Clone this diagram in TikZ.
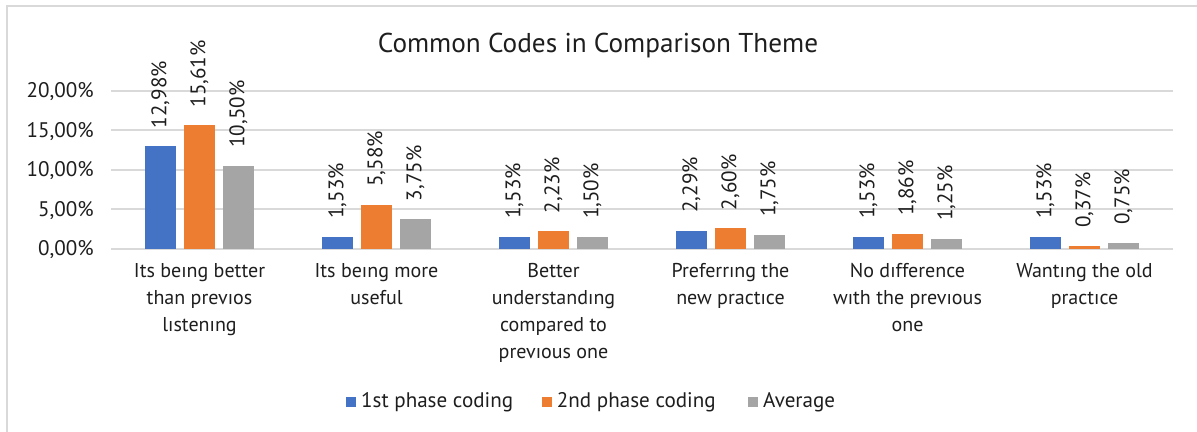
\documentclass[tikz,border=0pt]{standalone}
\usepackage{fontspec}
\setmainfont{PT Sans}
\usetikzlibrary{positioning}

\definecolor{barblue}{HTML}{4472C4}
\definecolor{barorange}{HTML}{ED7D31}
\definecolor{bargray}{HTML}{A5A5A5}
\definecolor{gridgray}{HTML}{D9D9D9}
\definecolor{txt}{HTML}{1E1E1E}

\begin{document}
\begin{tikzpicture}[
    x=0.02cm, y=-0.02cm,
    gridline/.style={draw=gridgray, line width=1pt},
    ylab/.style={anchor=base east, inner sep=0pt, text=txt, font=\fontsize{12}{14}\selectfont},
    vlab/.style={anchor=west, rotate=90, inner sep=0pt, text=txt, font=\fontsize{12}{14}\selectfont},
    catlab/.style={anchor=north, align=center, inner sep=0pt, text=txt, font=\fontsize{11.4}{15.3}\selectfont},
    legsq/.style={minimum size=0.2cm, inner sep=0pt},
    legtxt/.style={inner sep=0pt, text=txt, font=\fontsize{12}{14}\selectfont},
    title/.style={anchor=base, inner sep=0pt, text=txt, font=\fontsize{15.5}{18}\selectfont}
  ]
  \useasboundingbox (0,0) rectangle (1197,432);
  \draw[gridgray, line width=0.8pt] (7,432) -- (7,6) -- (1197,6);

  \node[title] (title) at (598,53) {Common Codes in Comparison Theme};

  % grid and y axis
  \foreach \g [count=\k] in {0,5,10,15,20}{
    \draw[gridline] (111,248.7-7.9*\g) -- (1173,248.7-7.9*\g);
    \node[ylab] (y-\k) at (94,255.7-7.9*\g)
      {\pgfmathprintnumber[fixed,fixed zerofill,precision=2,use comma,assume math mode=true]{\g}\%};
  }

  % bars, values and categories
  \foreach \pa/\pb/\av/\cat [count=\i] in {
      12.98/15.61/10.50/{Its beıng better\\than prevıos\\lıstenıng},
      1.53/5.58/3.75/{Its beıng more\\useful},
      1.53/2.23/1.50/{Better\\understandıng\\compared to\\prevıous one},
      2.29/2.60/1.75/{Preferrıng the\\new practıce},
      1.53/1.86/1.25/{No dıfference\\wıth the prevıous\\one},
      1.53/0.37/0.75/{Wantıng the old\\practıce}}{
    \pgfmathsetmacro\cx{111+177*(\i-0.5)}
    \foreach \v/\col/\dx [count=\j] in {\pa/barblue/-39,\pb/barorange/0,\av/bargray/39}{
      \fill[\col] (\cx+\dx-15.5,248.7) rectangle (\cx+\dx+15.5,248.7-7.9*\v);
      \node[vlab] (val-\i-\j) at (\cx+\dx,231-7.9*\v)
        {\pgfmathprintnumber[fixed,fixed zerofill,precision=2,use comma,assume math mode=true]{\v}\%};
    }
    \node[catlab] (cat-\i) at (\cx,263) {\cat};
  }

  % legend
  \node[legsq, fill=barblue] (legA) at (351,402) {};
  \node[legtxt, right=0.09cm of legA] (legAt) {1st phase coding};
  \node[legsq, fill=barorange] (legB) at (546.7,402) {};
  \node[legtxt, right=0.09cm of legB] (legBt) {2nd phase coding};
  \node[legsq, fill=bargray] (legC) at (753,402) {};
  \node[legtxt, right=0.09cm of legC] (legCt) {Average};
\end{tikzpicture}
\end{document}
